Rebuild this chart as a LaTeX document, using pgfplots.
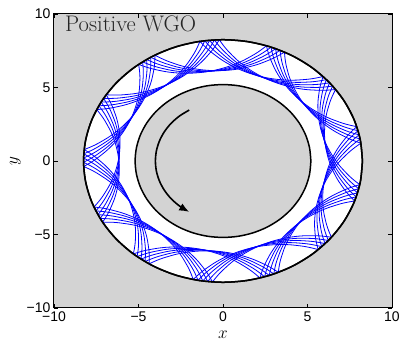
\documentclass[border=0pt]{standalone}
\usepackage{fontspec}
\usepackage{pgfplots}
\usepackage{pgfplotstable}
\pgfplotsset{compat=1.18}
\usetikzlibrary{arrows.meta}
\newfontfamily\hv{Liberation Sans}
\definecolor{bg}{RGB}{211,211,211}
\definecolor{orbit}{RGB}{0,0,255}

% one skipping arc in polar form: offset from its apex (deg), radius
\pgfplotstableread{
t r
-27.692 8.25
-26 7.861
-24 7.506
-20 6.998
-17 6.728
-13.846 6.517
-10.5 6.354
-7 6.238
-3.5 6.172
0 6.15
3.5 6.172
7 6.238
10.5 6.354
13.846 6.517
17 6.728
20 6.998
24 7.506
26 7.861
27.692 8.25
}\arctab

\begin{document}
\begin{tikzpicture}
\begin{axis}[
  scale only axis, width=338pt, height=294pt,
  xmin=-10, xmax=10, ymin=-10, ymax=10,
  xtick={-10,-5,0,5,10}, ytick={-10,-5,0,5,10},
  xticklabels={−10,−5,0,5,10}, yticklabels={−10,−5,0,5,10},
  tick align=inside, major tick length=4pt,
  axis line style={line width=1pt},
  tick style={black, line width=0.8pt},
  axis background/.style={fill=bg},
  ticklabel style={font=\hv\fontsize{14}{14}\selectfont},
  xlabel={$x$}, ylabel={$y$},
  label style={font=\fontsize{17}{17}\selectfont},
  xlabel style={yshift=-3pt}, ylabel style={yshift=-1pt},
]
  % white annulus
  \addplot[data cs=polar, smooth, draw=black, line width=1.5pt, fill=white] coordinates {
    (0,8.25) (10,8.25) (20,8.25) (30,8.25) (40,8.25) (50,8.25) (60,8.25)
    (70,8.25) (80,8.25) (90,8.25) (100,8.25) (110,8.25) (120,8.25) (130,8.25)
    (140,8.25) (150,8.25) (160,8.25) (170,8.25) (180,8.25) (190,8.25) (200,8.25)
    (210,8.25) (220,8.25) (230,8.25) (240,8.25) (250,8.25) (260,8.25) (270,8.25)
    (280,8.25) (290,8.25) (300,8.25) (310,8.25) (320,8.25) (330,8.25) (340,8.25)
    (350,8.25) (360,8.25)};
  \addplot[data cs=polar, smooth, draw=black, line width=1.5pt, fill=bg] coordinates {
    (0,5.2) (10,5.2) (20,5.2) (30,5.2) (40,5.2) (50,5.2) (60,5.2)
    (70,5.2) (80,5.2) (90,5.2) (100,5.2) (110,5.2) (120,5.2) (130,5.2)
    (140,5.2) (150,5.2) (160,5.2) (170,5.2) (180,5.2) (190,5.2) (200,5.2)
    (210,5.2) (220,5.2) (230,5.2) (240,5.2) (250,5.2) (260,5.2) (270,5.2)
    (280,5.2) (290,5.2) (300,5.2) (310,5.2) (320,5.2) (330,5.2) (340,5.2)
    (350,5.2) (360,5.2)};

  % orbit: apex angle of every arc (13 positions, five precessed passes)
  \pgfplotsinvokeforeach{
      174.6,202.29,229.98,257.68,285.37,313.06,340.75,8.45,36.14,63.83,91.52,119.21,146.91,
      176.6,204.29,231.98,259.68,287.37,315.06,342.75,10.45,38.14,65.83,93.52,121.21,148.91,
      178.6,206.29,233.98,261.68,289.37,317.06,344.75,12.45,40.14,67.83,95.52,123.21,150.91,
      180.6,208.29,235.98,263.68,291.37,319.06,346.75,14.45,42.14,69.83,97.52,125.21,152.91,
      182.6,210.29,237.98,265.68,293.37,321.06,348.75,16.45,44.14,71.83,99.52,127.21,154.91}{
    \addplot[data cs=polar, smooth, draw=orbit, line width=0.8pt]
      table[x expr=\thisrow{t}+#1, y=r] {\arctab};
  }

  % outer wall on top of the orbit
  \addplot[data cs=polar, smooth, draw=black, line width=1.5pt] coordinates {
    (0,8.25) (10,8.25) (20,8.25) (30,8.25) (40,8.25) (50,8.25) (60,8.25)
    (70,8.25) (80,8.25) (90,8.25) (100,8.25) (110,8.25) (120,8.25) (130,8.25)
    (140,8.25) (150,8.25) (160,8.25) (170,8.25) (180,8.25) (190,8.25) (200,8.25)
    (210,8.25) (220,8.25) (230,8.25) (240,8.25) (250,8.25) (260,8.25) (270,8.25)
    (280,8.25) (290,8.25) (300,8.25) (310,8.25) (320,8.25) (330,8.25) (340,8.25)
    (350,8.25) (360,8.25)};

  % direction arrow
  \addplot[data cs=polar, smooth, draw=black, line width=1.6pt,
           -{Latex[length=10pt,width=8pt]}] coordinates {
    (120,4) (130,4) (140,4) (150,4) (160,4) (170,4) (180,4)
    (190,4) (200,4) (210,4) (220,4) (230,4) (240,4)};

  \node[anchor=base west, inner sep=0pt, font=\fontsize{22.5}{22.5}\selectfont,
        text=black!85] at (rel axis cs:0.0325,0.939) {Positive WGO};

  \coordinate (sw) at (rel axis cs:0,0);
  \coordinate (ne) at (rel axis cs:1,1);
\end{axis}
\pgfresetboundingbox
\path[use as bounding box] ([xshift=-54pt,yshift=-37pt]sw) rectangle ([xshift=15pt,yshift=14pt]ne);
\end{tikzpicture}
\end{document}
